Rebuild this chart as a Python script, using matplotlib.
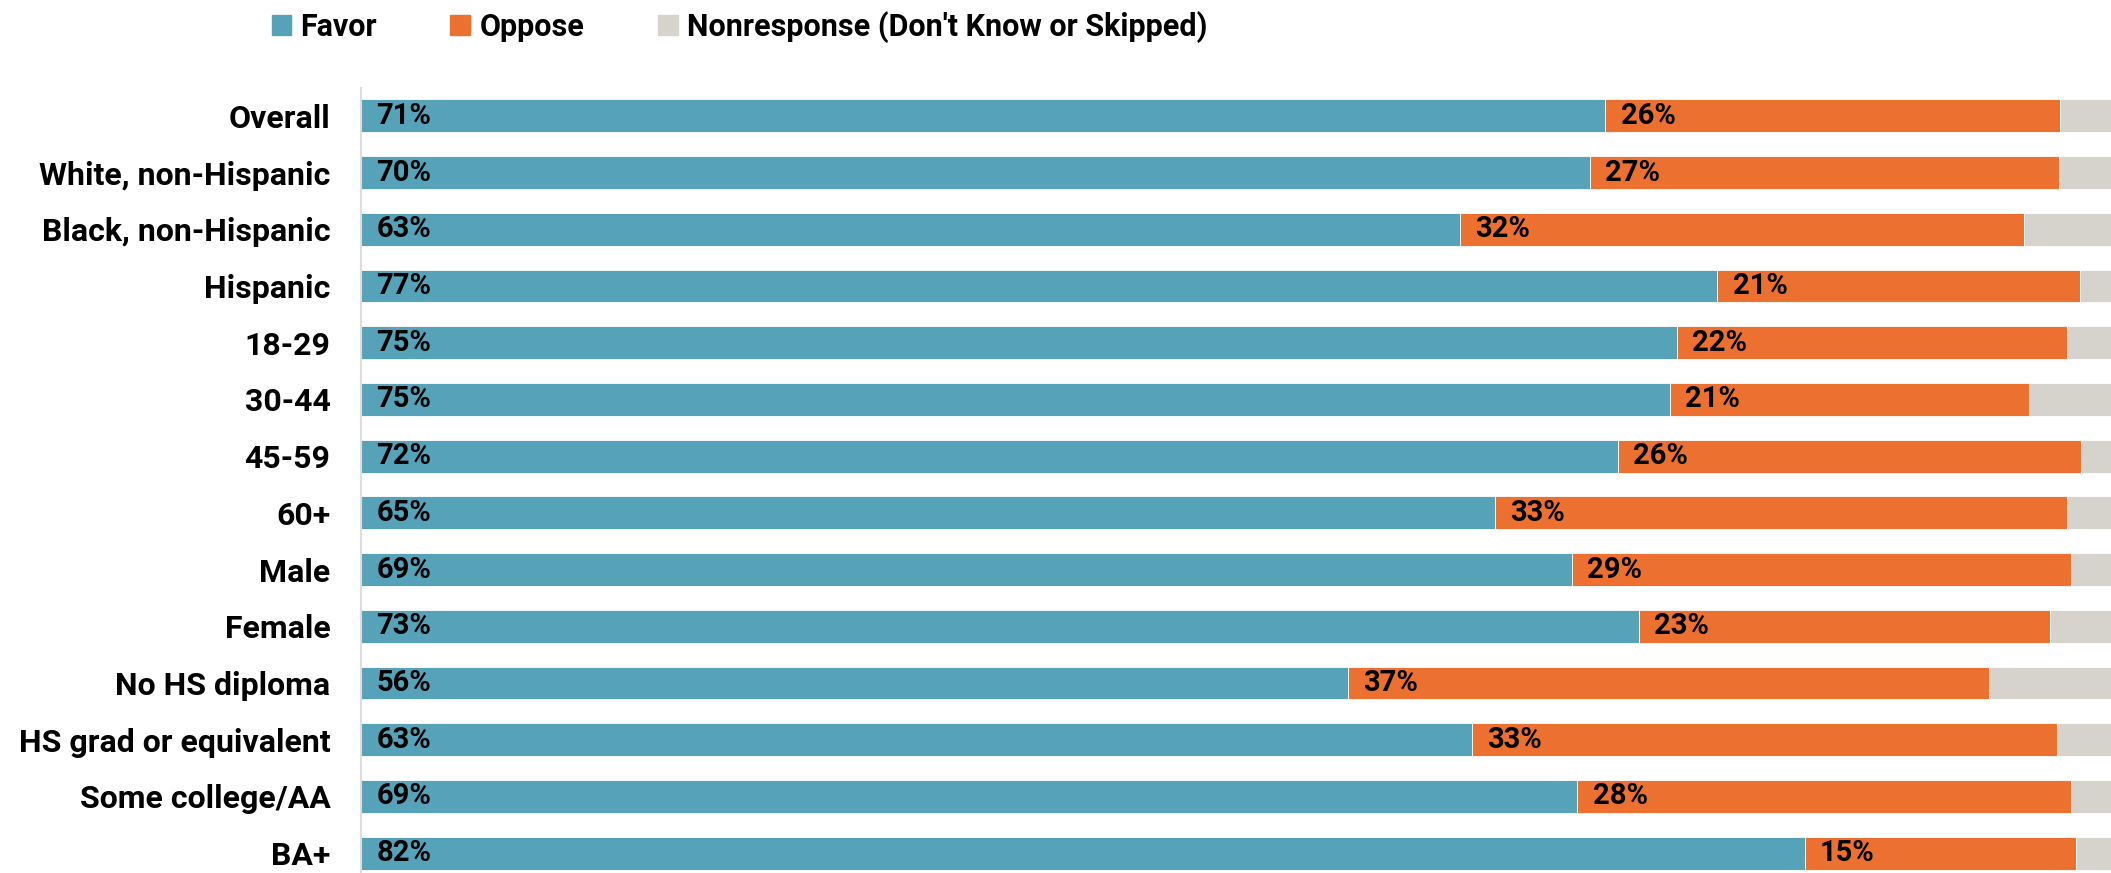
import numpy as np
import matplotlib.pyplot as plt
from matplotlib.patches import Patch

plt.rcParams['font.family'] = ['Roboto', 'DejaVu Sans']
plt.rcParams['font.weight'] = 'bold'

groups = ['Overall', 'White, non-Hispanic', 'Black, non-Hispanic', 'Hispanic',
          '18-29', '30-44', '45-59', '60+', 'Male', 'Female',
          'No HS diploma', 'HS grad or equivalent', 'Some college/AA', 'BA+']
favor = [71.1, 70.2, 62.8, 77.5, 75.2, 74.8, 71.8, 64.8, 69.2, 73.0, 56.4, 63.5, 69.5, 82.5]
oppose = [26.0, 26.8, 32.2, 20.7, 22.3, 20.5, 26.5, 32.7, 28.5, 23.5, 36.6, 33.4, 28.2, 15.5]
favor_lbl = ['71%', '70%', '63%', '77%', '75%', '75%', '72%', '65%', '69%', '73%', '56%', '63%', '69%', '82%']
oppose_lbl = ['26%', '27%', '32%', '21%', '22%', '21%', '26%', '33%', '29%', '23%', '37%', '33%', '28%', '15%']

c_fav = '#55a2b9'
c_opp = '#ec7030'
c_non = '#d6d2cc'

favor = np.array(favor)
oppose = np.array(oppose)
nonresp = 100 - favor - oppose
y = np.arange(len(groups))

fig = plt.figure(figsize=(21.11, 8.73), dpi=100)
ax = fig.add_axes([361/2111, 0.0, 1 - 361/2111, (873-88)/873])

h = 0.58
ax.barh(y, favor, height=h, color=c_fav, edgecolor='white', linewidth=0.6)
ax.barh(y, oppose, left=favor, height=h, color=c_opp, edgecolor='white', linewidth=0.6)
ax.barh(y, nonresp, left=favor + oppose, height=h, color=c_non, edgecolor='white', linewidth=0.6)

for i in range(len(groups)):
  ax.annotate(favor_lbl[i], (0, y[i]), xytext=(11, 0), textcoords='offset points',
              va='center', ha='left', fontsize=21, fontweight='bold')
  ax.annotate(oppose_lbl[i], (favor[i], y[i]), xytext=(11, 0), textcoords='offset points',
              va='center', ha='left', fontsize=21, fontweight='bold')

ax.set_xlim(0, 100)
ax.set_ylim(13.35, -0.49)
ax.set_yticks(y)
ax.set_yticklabels(groups, fontsize=23, fontweight='bold')
ax.tick_params(axis='y', length=0, pad=22)
ax.set_xticks([])
for s in ['top', 'right', 'bottom']:
  ax.spines[s].set_visible(False)
ax.spines['left'].set_color('#dddddd')
ax.spines['left'].set_linewidth(1.5)

handles = [Patch(color=c_fav, label='Favor'),
           Patch(color=c_opp, label='Oppose'),
           Patch(color=c_non, label="Nonresponse (Don't Know or Skipped)")]
fig.legend(handles=handles, loc='center left', bbox_to_anchor=(244/2111, 1 - 27/873),
           ncol=3, frameon=False, handlelength=0.65, handleheight=0.65,
           handletextpad=0.3, columnspacing=2.4, prop={'weight': 'bold', 'size': 22})

fig.savefig('out.png', dpi=100)
